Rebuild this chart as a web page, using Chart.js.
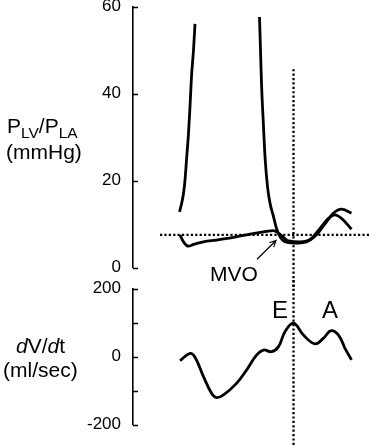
<!DOCTYPE html>
<html>
<head>
<meta charset="utf-8">
<script src="https://cdn.jsdelivr.net/npm/chart.js@4"></script>
<style>
  body { margin: 0; background: #fff; width: 369px; height: 445px; position: relative; overflow: hidden; font-family: "Liberation Sans", Arial, sans-serif; color: #000; }
  canvas { position: absolute; left: 0; }
  .lbl { position: absolute; line-height: 1; white-space: nowrap; font-size: 21px; }
  .lbl span.sub { font-size: 15.5px; position: relative; top: 5px; }
</style>
</head>
<body>
<canvas id="pressure-chart" width="369" height="290" style="top:0"></canvas>
<canvas id="flow-chart" width="369" height="175" style="top:270px"></canvas>

<div class="lbl" style="left:7px; top:115px">P<span class="sub">LV</span>/P<span class="sub">LA</span></div>
<div class="lbl" style="left:6px; top:141px">(mmHg)</div>
<div class="lbl" style="left:16px; top:335px"><i>d</i>V/<i>d</i>t</div>
<div class="lbl" style="left:3px; top:359px">(ml/sec)</div>
<div class="lbl" style="left:210px; top:263px">MVO</div>
<div class="lbl" style="left:272px; top:298px; font-size:24px">E</div>
<div class="lbl" style="left:322px; top:298px; font-size:24px">A</div>

<script>
// tiempo en ms (eje x oculto)
const lvTime = [93, 97, 101, 104, 107, 111, 114, 117, 121, 124, 190, 253, 255, 257, 261, 264, 269, 274, 281, 287, 295, 304, 321, 347, 367, 387, 401, 417, 437];
const lvPressure = [12.8, 14.6, 17.0, 20.1, 24.7, 30.8, 37.0, 43.9, 50.0, 56.0, null, 57.6, 50.0, 42.3, 32.4, 25.5, 18.6, 14.8, 11.7, 9.0, 6.9, 5.9, 5.6, 5.9, 7.5, 10.5, 12.5, 13.4, 12.5];

const laTime = [94, 101, 111, 121, 141, 167, 201, 234, 261, 281, 291, 311, 334, 357, 374, 391, 404, 417, 437];
const laPressure = [7.5, 5.9, 4.9, 5.3, 5.9, 6.3, 6.9, 7.7, 8.2, 8.5, 7.9, 6.1, 5.9, 6.7, 9.0, 11.3, 12.1, 11.3, 8.8];

const flowTime = [94, 114, 124, 141, 157, 167, 181, 207, 227, 247, 261, 277, 291, 304, 321, 341, 364, 381, 396, 411, 424, 437];
const flowRate = [-12, 9, -2, -59, -108, -121, -113, -79, -40, 4, 19, 14, 29, 73, 98, 63, 37, 54, 76, 63, 24, -10];

const pressureTicks = [0, 20, 40, 60];
const flowTicks = [-200, -100, 0, 100, 200];
const flowLabels = [-200, 0, 200];

const timeRange = [0, 472];
const mvoTime = 321;        // linea vertical
const baselinePressure = 7.5; // linea horizontal
const dottedLineStart = 54;
const verticalTop = 45.6;

const toPoints = (xs, ys) => xs.map((x, i) => ({ x: x, y: ys[i] }));

const curveStyle = {
    borderColor: '#000',
    borderWidth: 2.8,
    pointRadius: 0,
    cubicInterpolationMode: 'monotone',
    fill: false,
    spanGaps: false
};
const dottedStyle = {
    borderColor: '#000',
    borderWidth: 2.3,
    borderDash: [2.2, 2.2],
    pointRadius: 0,
    tension: 0,
    fill: false,
    clip: false
};

function yAxis(min, max, tickValues, labelFn) {
    return {
        min: min,
        max: max,
        afterBuildTicks: s => { s.ticks = tickValues.map(v => ({ value: v })); },
        afterFit: s => { s.width = 133; s.paddingTop = 0; s.paddingBottom = 0; },
        border: { display: true, color: '#000', width: 1.6 },
        grid: { display: true, drawOnChartArea: false, drawTicks: false },
        ticks: {
            color: '#000',
            padding: 12,
            font: { family: 'Liberation Sans', size: 17 },
            callback: labelFn
        }
    };
}

// marcas del eje hacia dentro
const innerTicks = {
    id: 'innerTicks',
    afterDraw(chart) {
        const { ctx, scales } = chart;
        const y = scales.y;
        ctx.save();
        ctx.strokeStyle = '#000';
        ctx.lineWidth = 1.6;
        ctx.beginPath();
        y.ticks.forEach(t => {
            const py = Math.round(y.getPixelForValue(t.value)) + 0.5;
            ctx.moveTo(y.right, py);
            ctx.lineTo(y.right + 5, py);
        });
        ctx.stroke();
        ctx.restore();
    }
};

// flecha MVO
const mvoArrow = {
    id: 'mvoArrow',
    afterDatasetsDraw(chart) {
        const { ctx, scales } = chart;
        const x1 = scales.x.getPixelForValue(248), y1 = scales.y.getPixelForValue(1.9);
        const x2 = scales.x.getPixelForValue(286), y2 = scales.y.getPixelForValue(6.2);
        const a = Math.atan2(y2 - y1, x2 - x1);
        ctx.save();
        ctx.strokeStyle = '#000';
        ctx.lineWidth = 1.2;
        ctx.beginPath();
        ctx.moveTo(x1, y1);
        ctx.lineTo(x2, y2);
        ctx.moveTo(x2 - 7 * Math.cos(a - 0.45), y2 - 7 * Math.sin(a - 0.45));
        ctx.lineTo(x2, y2);
        ctx.lineTo(x2 - 7 * Math.cos(a + 0.45), y2 - 7 * Math.sin(a + 0.45));
        ctx.stroke();
        ctx.restore();
    }
};

new Chart(document.getElementById('pressure-chart').getContext('2d'), {
    type: 'line',
    data: {
        datasets: [
            { ...curveStyle, label: 'PLV', data: toPoints(lvTime, lvPressure) },
            { ...curveStyle, label: 'PLA', data: toPoints(laTime, laPressure) },
            { ...dottedStyle, label: 'base', data: [{ x: dottedLineStart, y: baselinePressure }, { x: timeRange[1], y: baselinePressure }] },
            { ...dottedStyle, label: 'MVO', data: [{ x: mvoTime, y: verticalTop }, { x: mvoTime, y: -5.2 }] }
        ]
    },
    options: {
        responsive: false,
        animation: false,
        layout: { padding: { top: 6.5, bottom: 22.5, left: 0, right: 0 } },
        plugins: { legend: { display: false }, tooltip: { enabled: false } },
        scales: {
            x: { type: 'linear', display: false, min: timeRange[0], max: timeRange[1] },
            y: yAxis(0, 60, pressureTicks, v => String(v))
        }
    },
    plugins: [innerTicks, mvoArrow]
});

new Chart(document.getElementById('flow-chart').getContext('2d'), {
    type: 'line',
    data: {
        datasets: [
            { ...curveStyle, cubicInterpolationMode: 'default', tension: 0.4, label: 'dV/dt', data: toPoints(flowTime, flowRate) },
            { ...dottedStyle, label: 'MVO', data: [{ x: mvoTime, y: 225 }, { x: mvoTime, y: -262 }] }
        ]
    },
    options: {
        responsive: false,
        animation: false,
        layout: { padding: { top: 18.5, bottom: 20.5, left: 0, right: 0 } },
        plugins: { legend: { display: false }, tooltip: { enabled: false } },
        scales: {
            x: { type: 'linear', display: false, min: timeRange[0], max: timeRange[1] },
            y: yAxis(-200, 200, flowTicks, v => (flowLabels.includes(v) ? String(v) : ''))
        }
    },
    plugins: [innerTicks]
});
</script>
</body>
</html>
